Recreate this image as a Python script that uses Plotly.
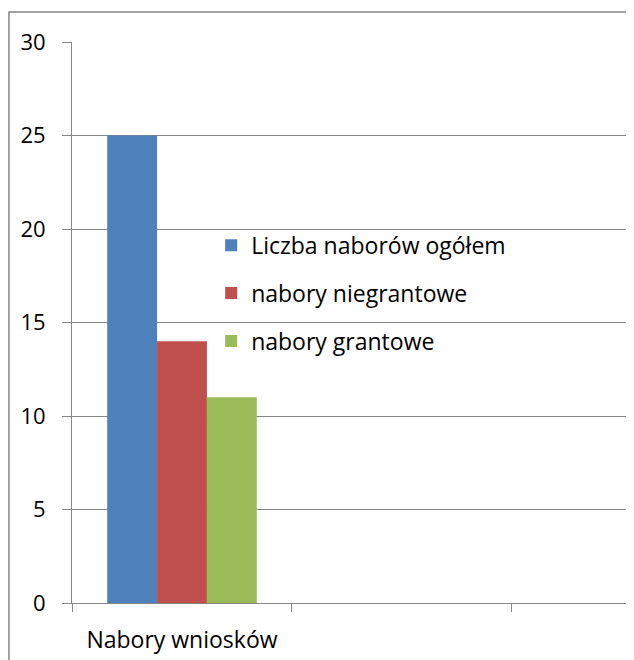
import plotly.graph_objects as go

categories = ["Nabory wniosków", " ", "  "]
series_names = ["Liczba naborów ogółem", "nabory niegrantowe", "nabory grantowe"]
series_values = [[25], [14], [11]]
colors = ["#4F81BD", "#C0504D", "#9BBB59"]
y_ticks = [0, 5, 10, 15, 20, 25, 30]

fig = go.Figure()
for name, vals, col in zip(series_names, series_values, colors):
    fig.add_trace(go.Bar(x=categories[:1], y=vals, name=name, marker_color=col,
                         marker_line_width=0, legendgroup=name))

FONT = "Open Sans"
fig.update_layout(
    width=634, height=660,
    margin=dict(l=64, r=2, t=34, b=65),
    paper_bgcolor="white", plot_bgcolor="white",
    barmode="group", bargap=0.32, bargroupgap=0,
    font=dict(family=FONT, size=22, color="black"),
    showlegend=True,
    legend=dict(x=0.245, y=0.676, xanchor="left", yanchor="top",
                font=dict(size=23, family=FONT, color="black"),
                traceorder="grouped", tracegroupgap=15,
                bgcolor="rgba(0,0,0,0)"),
    xaxis=dict(type="category", categoryorder="array", categoryarray=categories,
               range=[-0.5, 2.082], tickson="boundaries", ticks="outside", ticklen=8,
               tickcolor="#868686", showline=True, linecolor="#868686", linewidth=1,
               showgrid=False, tickfont=dict(size=23), ticklabelstandoff=16,
               fixedrange=True),
    yaxis=dict(range=[0, 30], tickvals=y_ticks, ticks="outside", ticklen=9,
               tickcolor="#868686", showline=True, linecolor="#868686", linewidth=1,
               showgrid=True, gridcolor="#868686", gridwidth=1, zeroline=False,
               tickfont=dict(size=22), ticklabelstandoff=12),
)
fig.add_shape(type="rect", xref="paper", yref="paper",
              x0=-0.111, x1=1.2, y0=-0.3, y1=1.0535,
              line=dict(color="#868686", width=1.5), fillcolor="rgba(0,0,0,0)", layer="below")

fig.write_html("out.html")
